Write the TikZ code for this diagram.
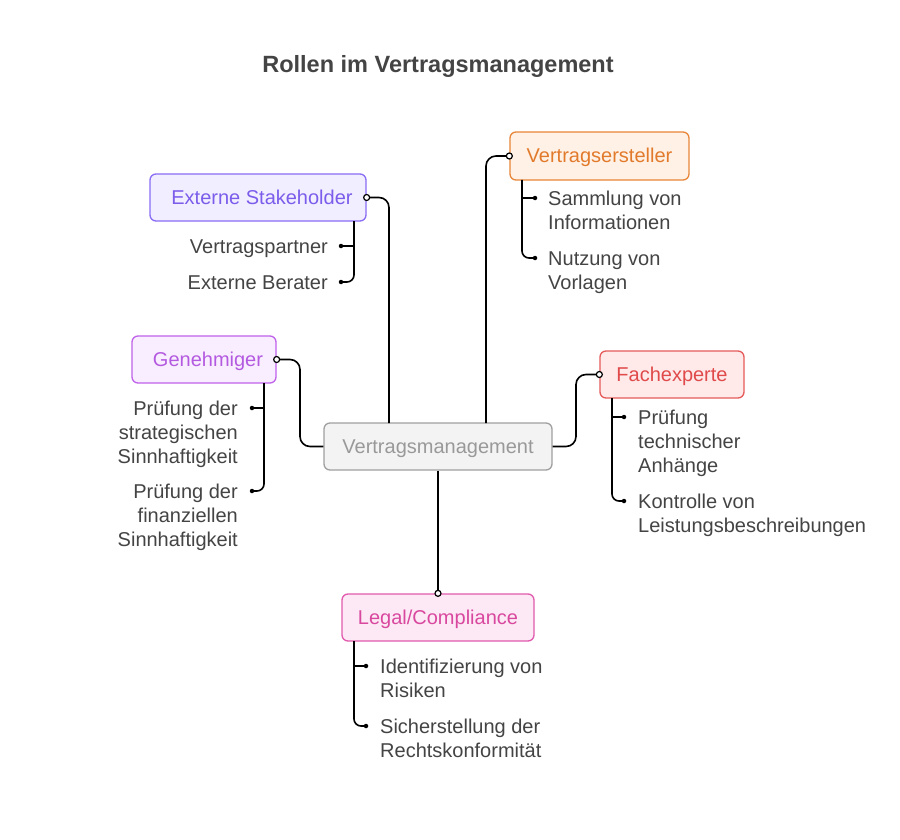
\documentclass[tikz,border=0pt]{standalone}
\usepackage{fontspec}
\setmainfont{Liberation Sans}
\usetikzlibrary{calc}
\definecolor{txt}{HTML}{444444}
\definecolor{extB}{HTML}{8A6CF5}\definecolor{extF}{HTML}{F1EEFF}\definecolor{extT}{HTML}{7B5CEB}
\definecolor{vsB}{HTML}{E8873A}\definecolor{vsF}{HTML}{FFF1E5}\definecolor{vsT}{HTML}{E27A2C}
\definecolor{genB}{HTML}{C062EA}\definecolor{genF}{HTML}{F9EEFF}\definecolor{genT}{HTML}{B45AE0}
\definecolor{feB}{HTML}{E65A5A}\definecolor{feF}{HTML}{FFE9E9}\definecolor{feT}{HTML}{E04A4A}
\definecolor{lgB}{HTML}{E25AAE}\definecolor{lgF}{HTML}{FDE9F5}\definecolor{lgT}{HTML}{D9489F}
\definecolor{ctB}{HTML}{A0A0A0}\definecolor{ctF}{HTML}{F3F3F3}\definecolor{ctT}{HTML}{999999}
\begin{document}
\begin{tikzpicture}[x=1pt,y=-1pt,
  box/.style={draw, rounded corners=6pt, line width=1.3pt, minimum height=47pt, inner sep=0pt, text height=14pt, text depth=0pt, font=\fontsize{20}{24}\selectfont},
  leafL/.style={inner sep=0pt, font=\fontsize{20}{24}\selectfont, text=txt, align=left, anchor=north west},
  leafR/.style={inner sep=0pt, font=\fontsize{20}{24}\selectfont, text=txt, align=right, anchor=north east},
  conn/.style={line width=1.6pt, rounded corners=10pt},
  sub/.style={line width=1.6pt, rounded corners=7pt},
  odot/.style={circle, draw, fill=white, inner sep=0pt, minimum size=6pt, line width=1.2pt},
  fdot/.style={circle, fill=black, inner sep=0pt, minimum size=4.5pt}
]
\useasboundingbox[fill=white] (0,0) rectangle (900,840);

\node[font=\fontsize{23.5}{28}\selectfont\bfseries, text=txt] (title) at (438,66) {Rollen im Vertragsmanagement};

% boxes
\node[box, draw=ctB, fill=ctF, text=ctT, minimum width=228pt] (center) at (438,446.5) {Vertragsmanagement};
\node[box, draw=extB, fill=extF, text=extT, minimum width=216pt] (ext) at (258,197.5) {\hspace{8pt}Externe Stakeholder};
\node[box, draw=vsB, fill=vsF, text=vsT, minimum width=179pt, minimum height=48pt] (vs) at (599.5,156) {Vertragsersteller};
\node[box, draw=genB, fill=genF, text=genT, minimum width=144pt] (gen) at (204,359.5) {\hspace{8pt}Genehmiger};
\node[box, draw=feB, fill=feF, text=feT, minimum width=144pt] (fe) at (672,374.5) {Fachexperte};
\node[box, draw=lgB, fill=lgF, text=lgT, minimum width=192pt] (lg) at (438,617.5) {Legal/Compliance};

% main connectors
\coordinate (cA) at (389,423);
\coordinate (cB) at (486,423);
\draw[conn] (ext.east) -| (cA);
\draw[conn] (cB) |- (vs.west);
\draw[conn] (gen.east) -| (300,400) |- (center.west);
\draw[conn] (center.east) -| (576,400) |- (fe.west);
\draw[conn] (center.south) -- (lg.north);
\foreach \p in {ext.east, vs.west, gen.east, fe.west, lg.north} \node[odot] at (\p) {};

% Externe Stakeholder children
\coordinate (e1) at (341,246); \coordinate (e2) at (341,282);
\draw[sub] (354,221) |- (e2); \draw[sub] (354,246) -- (e1);
\node[fdot] at (e1) {}; \node[fdot] at (e2) {};
\node[leafR] (e1t) at ($(e1)+(-13,-9.6)$) {\strut Vertragspartner};
\node[leafR] (e2t) at ($(e2)+(-13,-9.6)$) {\strut Externe Berater};

% Vertragsersteller children
\coordinate (v1) at (535,198); \coordinate (v2) at (535,258);
\draw[sub] (522,180) |- (v2); \draw[sub] (522,198) -- (v1);
\node[fdot] at (v1) {}; \node[fdot] at (v2) {};
\node[leafL] (v1t) at ($(v1)+(13,-9.6)$) {\strut Sammlung von\\Informationen};
\node[leafL] (v2t) at ($(v2)+(13,-9.6)$) {\strut Nutzung von\\Vorlagen};

% Genehmiger children
\coordinate (g1) at (252,408); \coordinate (g2) at (252,491);
\draw[sub] (264,383) |- (g2); \draw[sub] (264,408) -- (g1);
\node[fdot] at (g1) {}; \node[fdot] at (g2) {};
\node[leafR] (g1t) at ($(g1)+(-14,-9.6)$) {\strut Prüfung der\\strategischen\\Sinnhaftigkeit};
\node[leafR] (g2t) at ($(g2)+(-14,-9.6)$) {\strut Prüfung der\\finanziellen\\Sinnhaftigkeit};

% Fachexperte children
\coordinate (f1) at (624,417); \coordinate (f2) at (624,501);
\draw[sub] (612,398) |- (f2); \draw[sub] (612,417) -- (f1);
\node[fdot] at (f1) {}; \node[fdot] at (f2) {};
\node[leafL] (f1t) at ($(f1)+(14,-9.6)$) {\strut Prüfung\\technischer\\Anhänge};
\node[leafL] (f2t) at ($(f2)+(14,-9.6)$) {\strut Kontrolle von\\Leistungsbeschreibungen};

% Legal children
\coordinate (l1) at (366,666); \coordinate (l2) at (366,726);
\draw[sub] (354,641) |- (l2); \draw[sub] (354,666) -- (l1);
\node[fdot] at (l1) {}; \node[fdot] at (l2) {};
\node[leafL] (l1t) at ($(l1)+(14,-9.6)$) {\strut Identifizierung von\\Risiken};
\node[leafL] (l2t) at ($(l2)+(14,-9.6)$) {\strut Sicherstellung der\\Rechtskonformität};
\end{tikzpicture}
\end{document}
